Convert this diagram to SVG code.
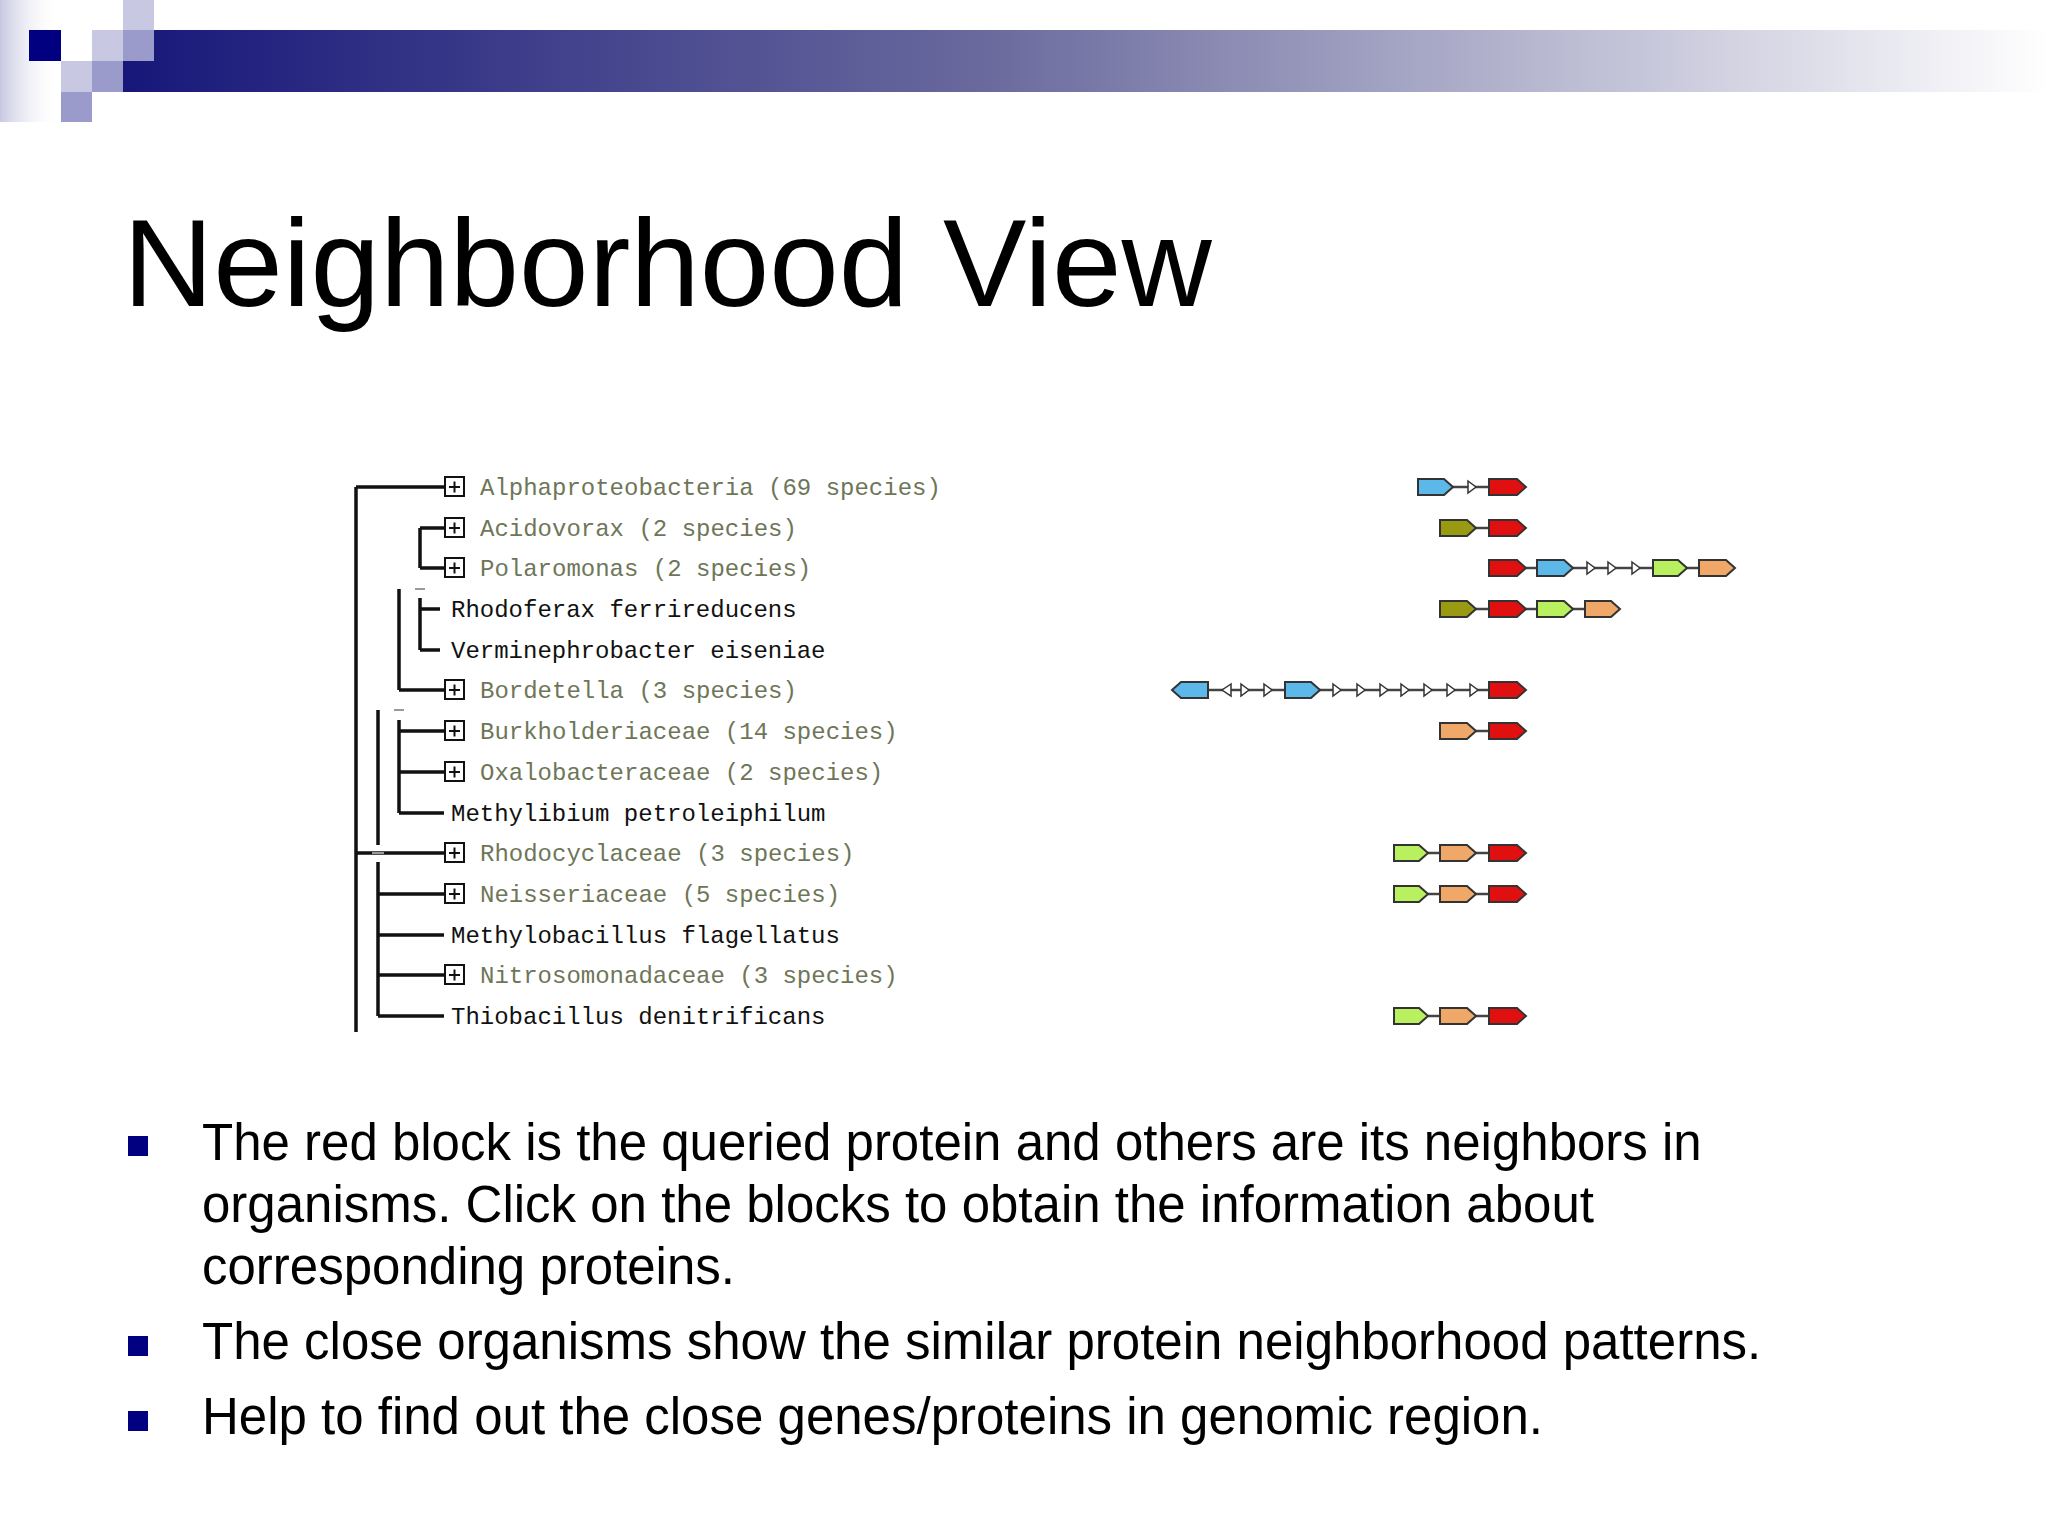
<svg xmlns="http://www.w3.org/2000/svg" width="2048" height="1536" viewBox="0 0 2048 1536">
<defs>
<linearGradient id="bar" x1="0" x2="1" y1="0" y2="0"><stop offset="0" stop-color="#17177a"/><stop offset="0.45" stop-color="#6a6a9e"/><stop offset="1" stop-color="#ffffff"/></linearGradient>
<linearGradient id="fade" x1="0" x2="1" y1="0" y2="0"><stop offset="0" stop-color="#c8c8e2"/><stop offset="1" stop-color="#ffffff" stop-opacity="0"/></linearGradient>
<style>
.t{font-family:"Liberation Mono",monospace;font-size:24px}
.g{fill:#6e7658}.k{fill:#111}
.ln{stroke:#111;stroke-width:3.5;fill:none}
.box{fill:#fff;stroke:#111;stroke-width:2}
.gene{stroke:#333;stroke-width:2}
.bl{fill:#5bb8e8}.rd{fill:#e01010}.ol{fill:#9a9a12}.gr{fill:#b8f060}.or{fill:#f0a868}
.tri{fill:#fff;stroke:#333;stroke-width:1.5}
.conn{stroke:#444;stroke-width:2.5}
.b{font-family:"Liberation Sans",Arial,sans-serif;font-size:51px;fill:#000}
</style>
<symbol id="plus" overflow="visible"><rect class="box" x="0" y="-10" width="19" height="19"/><path d="M9.5 -5.5v11M4 0h11" stroke="#111" stroke-width="2"/></symbol>
</defs>
<rect width="2048" height="1536" fill="#fff"/>
<g id="header">
<rect x="0" y="0" width="60" height="122" fill="url(#fade)"/>
<rect x="123" y="30" width="1925" height="62" fill="url(#bar)"/>
<rect x="29" y="30" width="32" height="31" fill="#000080"/>
<rect x="92" y="30" width="31" height="31" fill="#c8c8e2"/>
<rect x="123" y="0" width="31" height="30" fill="#c8c8e2"/>
<rect x="123" y="30" width="31" height="31" fill="#9a9acb"/>
<rect x="61" y="61" width="31" height="31" fill="#c8c8e2"/>
<rect x="92" y="61" width="31" height="31" fill="#9a9acb"/>
<rect x="61" y="92" width="31" height="30" fill="#9a9acb"/>
</g>
<text x="123" y="306" font-family="Liberation Sans,Arial,sans-serif" font-size="125" fill="#000">Neighborhood View</text>
<g id="tree-lines">
<path class="ln" d="M356 487V1032M356 487H445M420 528V568M420 528H445M420 568H445M420 598V650M420 609H440M420 650H440M399 589V690M399 690H445M399 720V813M399 731H445M399 772H445M399 813H444M378 710V845M378 862V1016M356 853H445M378 894H445M378 935H444M378 975H445M378 1016H444"/>
<path d="M415 589h10M394 710h10M372 853h12" stroke="#999" stroke-width="2"/>
</g>
<g id="labels">
<g id="n1"><use href="#plus" x="445" y="487"/><text class="t g" x="480" y="495">Alphaproteobacteria (69 species)</text></g>
<g id="n2"><use href="#plus" x="445" y="528"/><text class="t g" x="480" y="536">Acidovorax (2 species)</text></g>
<g id="n3"><use href="#plus" x="445" y="568"/><text class="t g" x="480" y="576">Polaromonas (2 species)</text></g>
<g id="n4"><text class="t k" x="451" y="617">Rhodoferax ferrireducens</text></g>
<g id="n5"><text class="t k" x="451" y="658">Verminephrobacter eiseniae</text></g>
<g id="n6"><use href="#plus" x="445" y="690"/><text class="t g" x="480" y="698">Bordetella (3 species)</text></g>
<g id="n7"><use href="#plus" x="445" y="731"/><text class="t g" x="480" y="739">Burkholderiaceae (14 species)</text></g>
<g id="n8"><use href="#plus" x="445" y="772"/><text class="t g" x="480" y="780">Oxalobacteraceae (2 species)</text></g>
<g id="n9"><text class="t k" x="451" y="821">Methylibium petroleiphilum</text></g>
<g id="n10"><use href="#plus" x="445" y="853"/><text class="t g" x="480" y="861">Rhodocyclaceae (3 species)</text></g>
<g id="n11"><use href="#plus" x="445" y="894"/><text class="t g" x="480" y="902">Neisseriaceae (5 species)</text></g>
<g id="n12"><text class="t k" x="451" y="943">Methylobacillus flagellatus</text></g>
<g id="n13"><use href="#plus" x="445" y="975"/><text class="t g" x="480" y="983">Nitrosomonadaceae (3 species)</text></g>
<g id="n14"><text class="t k" x="451" y="1024">Thiobacillus denitrificans</text></g>
</g>
<g id="genes">
<!-- row1 -->
<path class="conn" d="M1453 487H1489"/>
<path class="gene bl" d="M1418 479h26l9 8-9 8h-26z"/>
<path class="tri" d="M1468 481l8 6-8 6z"/>
<path class="gene rd" d="M1489 479h28l9 8-9 8h-28z"/>
<!-- row2 -->
<path class="conn" d="M1476 528H1489"/>
<path class="gene ol" d="M1440 520h27l9 8-9 8h-27z"/>
<path class="gene rd" d="M1489 520h28l9 8-9 8h-28z"/>
<!-- row3 -->
<path class="conn" d="M1526 568H1699"/>
<path class="gene rd" d="M1489 560h28l9 8-9 8h-28z"/>
<path class="gene bl" d="M1537 560h27l9 8-9 8h-27z"/>
<path class="tri" d="M1587 562l8 6-8 6z"/><path class="tri" d="M1608 562l8 6-8 6z"/><path class="tri" d="M1632 562l8 6-8 6z"/>
<path class="gene gr" d="M1653 560h25l9 8-9 8h-25z"/>
<path class="gene or" d="M1699 560h27l9 8-9 8h-27z"/>
<!-- row4 -->
<path class="conn" d="M1476 609H1585"/>
<path class="gene ol" d="M1440 601h27l9 8-9 8h-27z"/>
<path class="gene rd" d="M1489 601h28l9 8-9 8h-28z"/>
<path class="gene gr" d="M1537 601h27l9 8-9 8h-27z"/>
<path class="gene or" d="M1585 601h26l9 8-9 8h-26z"/>
<!-- row6 -->
<path class="conn" d="M1208 690H1489"/>
<path class="gene bl" d="M1172 690l9-8h27v16h-27z"/>
<path class="tri" d="M1231 684l-9 6 9 6z"/>
<path class="tri" d="M1241 684l8 6-8 6z"/><path class="tri" d="M1264 684l8 6-8 6z"/>
<path class="gene bl" d="M1285 682h26l9 8-9 8h-26z"/>
<path class="tri" d="M1333 684l8 6-8 6z"/><path class="tri" d="M1357 684l8 6-8 6z"/><path class="tri" d="M1380 684l8 6-8 6z"/><path class="tri" d="M1401 684l8 6-8 6z"/><path class="tri" d="M1424 684l8 6-8 6z"/><path class="tri" d="M1447 684l8 6-8 6z"/><path class="tri" d="M1470 684l8 6-8 6z"/>
<path class="gene rd" d="M1489 682h28l9 8-9 8h-28z"/>
<!-- row7 -->
<path class="conn" d="M1476 731H1489"/>
<path class="gene or" d="M1440 723h27l9 8-9 8h-27z"/>
<path class="gene rd" d="M1489 723h28l9 8-9 8h-28z"/>
<!-- rows 10,11,14 -->
<g id="r10"><path class="conn" d="M1428 853H1489"/><path class="gene gr" d="M1394 845h25l9 8-9 8h-25z"/><path class="gene or" d="M1440 845h27l9 8-9 8h-27z"/><path class="gene rd" d="M1489 845h28l9 8-9 8h-28z"/></g>
<use href="#r10" y="41"/>
<use href="#r10" y="163"/>
</g>
<g id="bullets">
<rect x="128" y="1136" width="20" height="20" fill="#000080"/>
<rect x="128" y="1336" width="20" height="20" fill="#000080"/>
<rect x="128" y="1411" width="20" height="20" fill="#000080"/>
<text class="b" x="202" y="1160">The red block is the queried protein and others are its neighbors in</text>
<text class="b" x="202" y="1222">organisms. Click on the blocks to obtain the information about</text>
<text class="b" x="202" y="1284">corresponding proteins.</text>
<text class="b" x="202" y="1359">The close organisms show the similar protein neighborhood patterns.</text>
<text class="b" x="202" y="1434">Help to find out the close genes/proteins in genomic region.</text>
</g>
</svg>
